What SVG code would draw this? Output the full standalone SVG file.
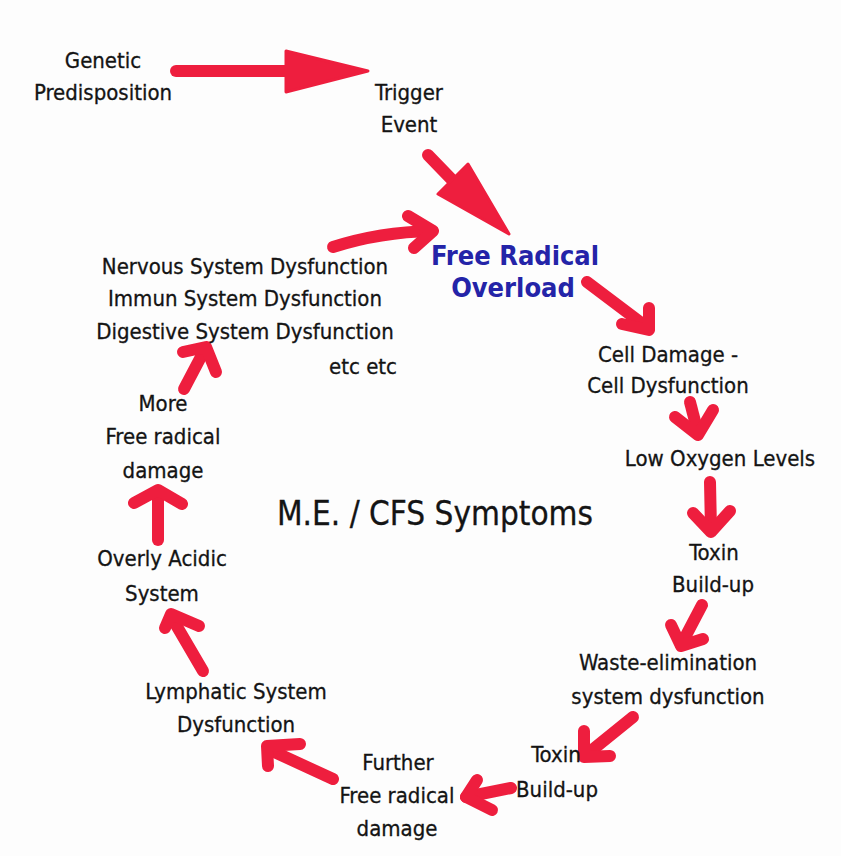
<svg xmlns="http://www.w3.org/2000/svg" width="841" height="856" viewBox="0 0 841 856">
<style>
.t{font-family:"Liberation Sans Narrow","DejaVu Sans Condensed","Liberation Sans",sans-serif;font-size:22px;fill:#141414;stroke:#141414;stroke-width:0.3;text-anchor:middle}
.b{font-family:"Liberation Sans Narrow","DejaVu Sans Condensed","Liberation Sans",sans-serif;font-size:27px;font-weight:bold;fill:#2424a8;text-anchor:middle}
.big{font-family:"Liberation Sans Narrow","DejaVu Sans Condensed","Liberation Sans",sans-serif;font-size:33px;fill:#141414;stroke:#141414;stroke-width:0.3;text-anchor:middle}
.a{fill:none;stroke:#ee1e3e;stroke-width:12;stroke-linecap:round;stroke-linejoin:round}
.h{fill:#ee1e3e;stroke:#ee1e3e;stroke-width:3;stroke-linejoin:round}
</style>
<rect width="841" height="856" fill="#fdfdfd"/>
<g id="connectors">
<path class="a" d="M176 71 H292" stroke-linecap="butt"/>
<polygon class="h" points="286,51 368,71 286,92"/>
<path class="a" d="M428 155 L458 186" stroke-linecap="butt"/>
<polygon class="h" points="438,194 468,164 509,234"/>
<path class="a" d="M333 247 Q380 232 432 231" stroke-width="11"/>
<path class="a" d="M408 216 L433 231 L414 248"/>
<path class="a" d="M587 282 L648 328"/>
<path class="a" d="M622 324 L649 330 L649 308"/>
<path class="a" d="M690 402 L698 433"/>
<path class="a" d="M675 417 L698 435 L713 410"/>
<path class="a" d="M710 482 L711 530"/>
<path class="a" d="M693 513 L711 532 L730 511"/>
<path class="a" d="M702 605 L681 645"/>
<path class="a" d="M671 625 L681 646 L703 639"/>
<path class="a" d="M633 717 L586 755"/>
<path class="a" d="M584 731 L584 757 L610 756"/>
<path class="a" d="M511 788 L466 797"/>
<path class="a" d="M477 780 L466 797 L492 810"/>
<path class="a" d="M333 779 L270 750"/>
<path class="a" d="M300 744 L267 746 L268 766"/>
<path class="a" d="M203 671 L172 618"/>
<path class="a" d="M165 628 L171 614 L199 626"/>
<path class="a" d="M158 540 L158 492"/>
<path class="a" d="M134 503 L158 490 L182 504"/>
<path class="a" d="M184 389 L204 351"/>
<path class="a" d="M183 352 L206 347 L216 372"/>
</g>
<g id="genetic"><text class="t" x="103" y="68">Genetic</text><text class="t" x="103" y="100">Predisposition</text></g>
<g id="trigger"><text class="t" x="409" y="100">Trigger</text><text class="t" x="409" y="132">Event</text></g>
<g id="free-radical"><text class="b" x="515" y="265">Free Radical</text><text class="b" x="513" y="297">Overload</text></g>
<g id="systems">
<text class="t" x="245" y="274">Nervous System Dysfunction</text>
<text class="t" x="245" y="306">Immun System Dysfunction</text>
<text class="t" x="245" y="339">Digestive System Dysfunction</text>
<text class="t" x="397" y="374" style="text-anchor:end">etc etc</text>
</g>
<g id="cell-damage"><text class="t" x="668" y="362">Cell Damage -</text><text class="t" x="668" y="393">Cell Dysfunction</text></g>
<g id="low-oxygen"><text class="t" x="720" y="466">Low Oxygen Levels</text></g>
<g id="toxin1"><text class="t" x="714" y="560">Toxin</text><text class="t" x="713" y="592">Build-up</text></g>
<g id="waste"><text class="t" x="668" y="670">Waste-elimination</text><text class="t" x="668" y="704">system dysfunction</text></g>
<g id="toxin2"><text class="t" x="556" y="762">Toxin</text><text class="t" x="557" y="797">Build-up</text></g>
<g id="further"><text class="t" x="398" y="770">Further</text><text class="t" x="397" y="803">Free radical</text><text class="t" x="397" y="836">damage</text></g>
<g id="lymphatic"><text class="t" x="236" y="699">Lymphatic System</text><text class="t" x="236" y="732">Dysfunction</text></g>
<g id="acidic"><text class="t" x="162" y="566">Overly Acidic</text><text class="t" x="162" y="601">System</text></g>
<g id="more"><text class="t" x="163" y="411">More</text><text class="t" x="163" y="444">Free radical</text><text class="t" x="163" y="478">damage</text></g>
<g id="title"><text class="big" x="435" y="525">M.E. / CFS Symptoms</text></g>
</svg>
